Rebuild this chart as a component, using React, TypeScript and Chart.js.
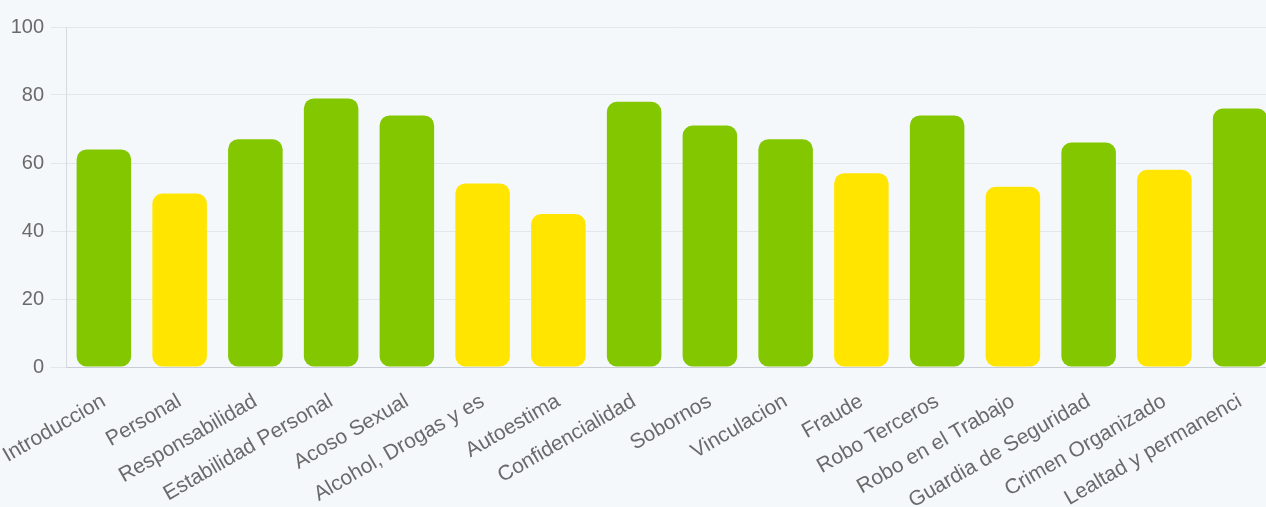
import React, { useEffect, useRef } from "react";
import { Chart, registerables } from "chart.js";

Chart.register(...registerables);

const categories = [
  "Introduccion",
  "Personal",
  "Responsabilidad",
  "Estabilidad Personal",
  "Acoso Sexual",
  "Alcohol, Drogas y es",
  "Autoestima",
  "Confidencialidad",
  "Sobornos",
  "Vinculacion",
  "Fraude",
  "Robo Terceros",
  "Robo en el Trabajo",
  "Guardia de Seguridad",
  "Crimen Organizado",
  "Lealtad y permanenci",
];

const scores = [64, 51, 67, 79, 74, 54, 45, 78, 71, 67, 57, 74, 53, 66, 58, 76];

const yTicks = [0, 20, 40, 60, 80, 100];

const GREEN = "#82c700";
const YELLOW = "#ffe500";
const threshold = 60;

export default function App() {
  const ref = useRef<HTMLCanvasElement | null>(null);

  useEffect(() => {
    if (!ref.current) return;
    const family = "'Liberation Sans', Arial, Helvetica, sans-serif";
    const chart = new Chart(ref.current, {
      type: "bar",
      data: {
        labels: categories,
        datasets: [
          {
            data: scores,
            backgroundColor: scores.map((v) => (v >= threshold ? GREEN : YELLOW)),
            borderWidth: 0,
            borderRadius: 10,
            borderSkipped: false,
          },
        ],
      },
      options: {
        animation: false,
        responsive: false,
        devicePixelRatio: 1,
        layout: { padding: { top: 27, left: 0, right: 0, bottom: 0 } },
        plugins: { legend: { display: false }, tooltip: { enabled: false } },
        scales: {
          x: {
            grid: { display: false },
            border: { display: true, color: "#c9ced6", width: 1 },
            ticks: {
              color: "#6a6a6a",
              font: { family, size: 21 },
              autoSkip: false,
              minRotation: 30,
              maxRotation: 30,
              padding: 14,
            },
            afterFit: (s: any) => {
              s.height = 140;
              s.paddingLeft = 0;
              s.paddingRight = 0;
            },
          },
          y: {
            min: 0,
            max: 100,
            afterBuildTicks: (s: any) => {
              s.ticks = yTicks.map((v) => ({ value: v }));
            },
            grid: { color: "#e3e7ec", tickLength: 15 },
            border: { display: true, color: "#d6dae0" },
            ticks: { color: "#6a6a6a", font: { family, size: 20 }, padding: 7 },
            afterFit: (s: any) => {
              s.width = 66;
              s.paddingTop = 0;
              s.paddingBottom = 0;
            },
          },
        },
      },
    });
    return () => chart.destroy();
  }, []);

  return (
    <div
      style={{
        position: "fixed",
        left: 0,
        top: 0,
        width: 1266,
        height: 507,
        overflow: "hidden",
        background: "#f5f8fb",
      }}
    >
      <canvas ref={ref} width={1278} height={507} style={{ width: 1278, height: 507, display: "block" }} />
    </div>
  );
}
